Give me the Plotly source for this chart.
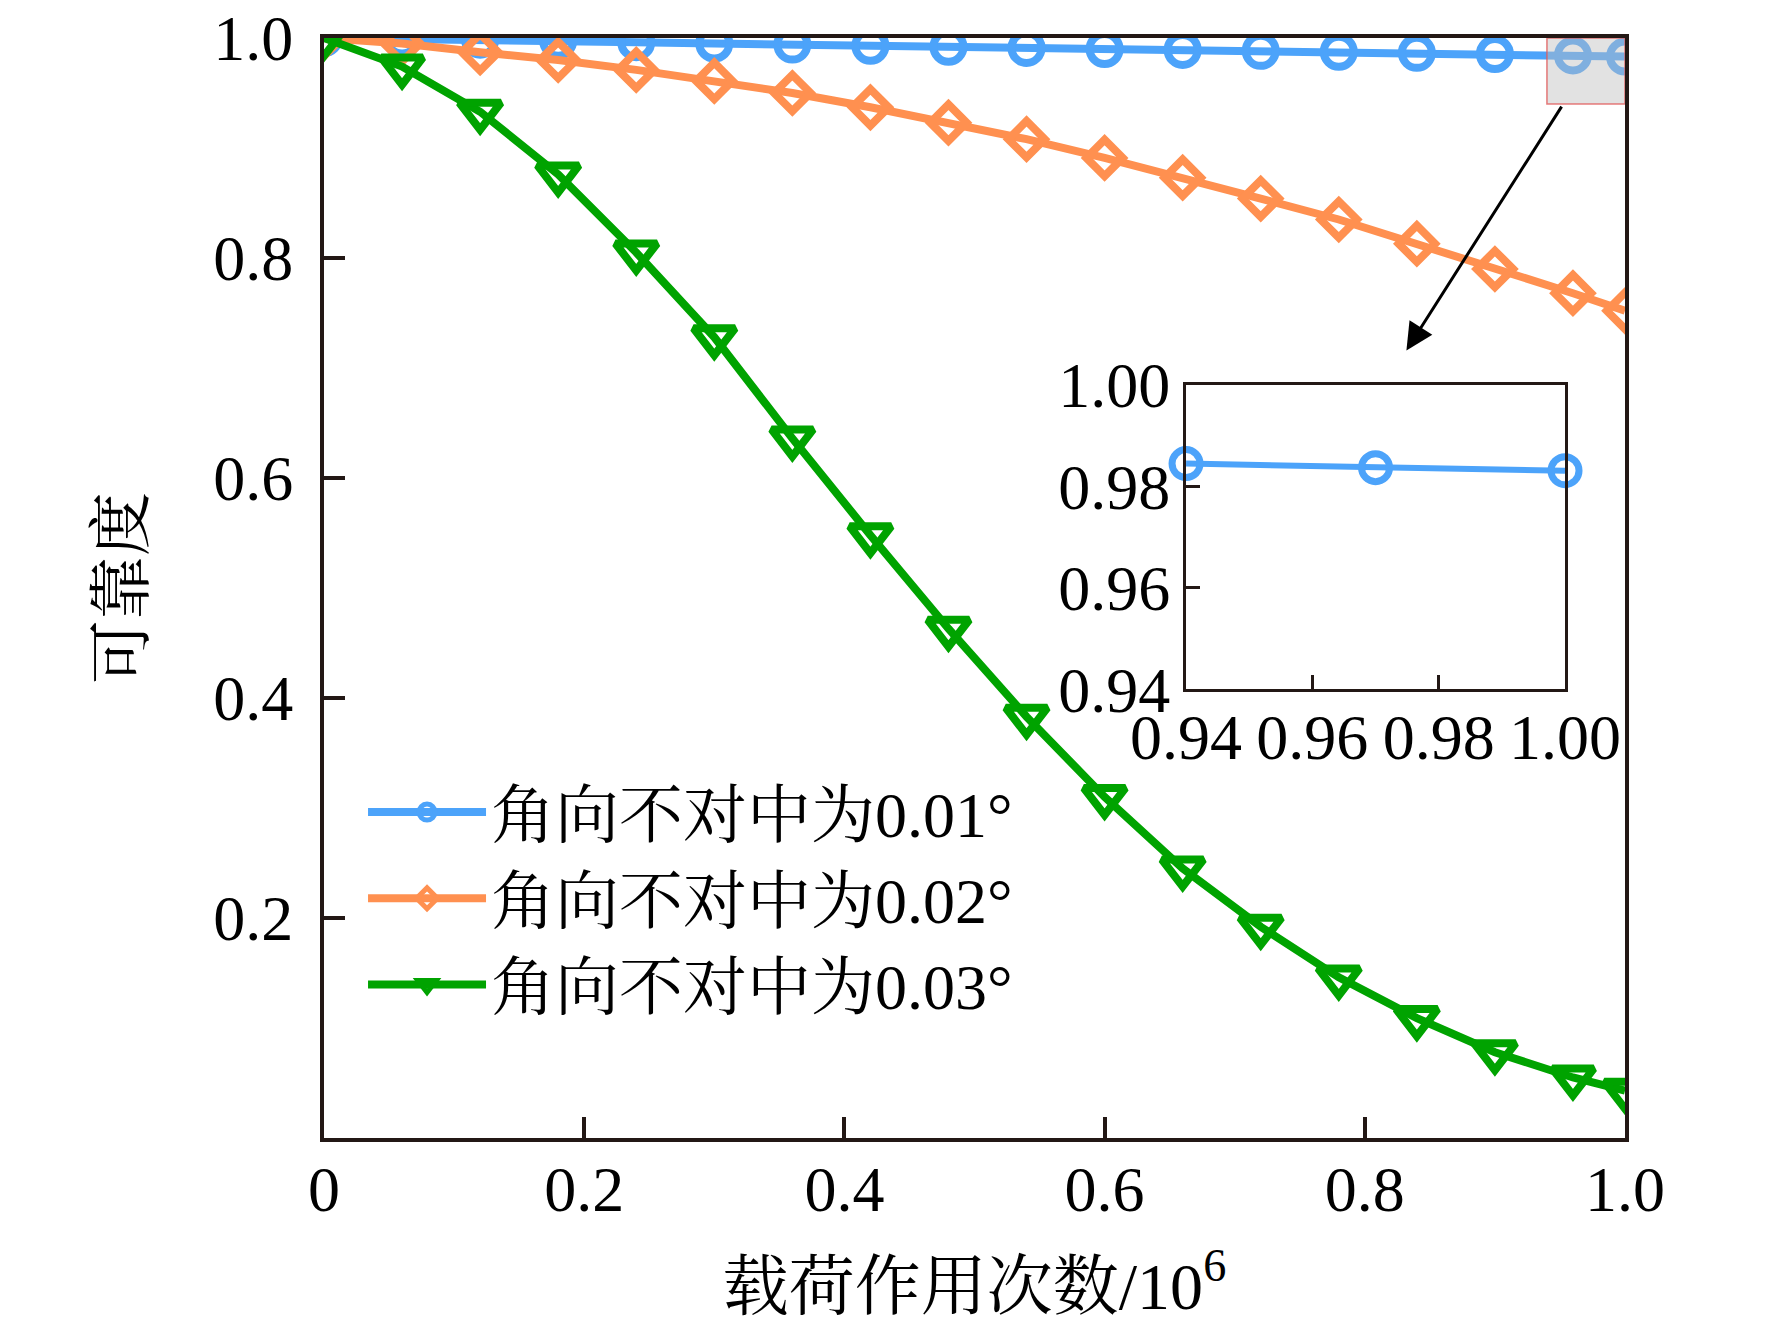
import plotly.graph_objects as go

# ------------------ data ------------------
cycles = [0.0, 0.06, 0.12, 0.18, 0.24, 0.30, 0.36, 0.42, 0.48, 0.54,
          0.60, 0.66, 0.72, 0.78, 0.84, 0.90, 0.96, 1.00]  # x 10^6

rel_001 = [1.000, 0.9995, 0.9985, 0.9975, 0.9962, 0.9950, 0.9940, 0.9930, 0.9920,
           0.9910, 0.9900, 0.9892, 0.9883, 0.9875, 0.9865, 0.9855, 0.9842, 0.9831]
rel_002 = [1.000, 0.995, 0.987, 0.980, 0.971, 0.961, 0.950, 0.937, 0.923,
           0.908, 0.891, 0.873, 0.854, 0.835, 0.813, 0.790, 0.768, 0.752]
rel_003 = [1.000, 0.974, 0.933, 0.876, 0.805, 0.728, 0.636, 0.548, 0.463,
           0.383, 0.310, 0.245, 0.192, 0.146, 0.109, 0.078, 0.055, 0.043]

# zoomed detail (inset)
inset_x = [0.94, 0.97, 1.00]
inset_y = [0.9845, 0.9837, 0.9831]

names = ['角向不对中为0.01°', '角向不对中为0.02°', '角向不对中为0.03°']
x_ticks = [0, 0.2, 0.4, 0.6, 0.8, 1.0]
x_ticktext = ['0', '0.2', '0.4', '0.6', '0.8', '1.0']
y_ticks = [0.2, 0.4, 0.6, 0.8, 1.0]
y_ticktext = ['0.2', '0.4', '0.6', '0.8', '1.0']
inset_ticks = [0.94, 0.96, 0.98, 1.00]
inset_ticktext = ['0.94', '0.96', '0.98', '1.00']

# ------------------ styling ------------------
FONT = 'Liberation Serif, Noto Serif CJK SC, Noto Sans CJK SC, serif'
AXIS_COLOR = '#231815'
colors = ['#4CA3FA', '#FF9050', '#00A300']
symbols = ['circle-open', 'diamond-open', 'triangle-down-open']
sizes = [30, 28, 36]

fig = go.Figure()

for ys, name, color, sym, sz in zip([rel_001, rel_002, rel_003], names, colors, symbols, sizes):
    fig.add_trace(go.Scatter(
        x=cycles, y=ys, mode='lines+markers', name=name,
        line=dict(color=color, width=8),
        marker=dict(symbol=sym, size=sz, color=color, line=dict(color=color, width=8)),
    ))

# inset trace
fig.add_trace(go.Scatter(
    x=inset_x, y=inset_y, mode='lines+markers', showlegend=False,
    xaxis='x2', yaxis='y2', cliponaxis=False,
    line=dict(color=colors[0], width=6),
    marker=dict(symbol='circle-open', size=28, color=colors[0], line=dict(color=colors[0], width=7)),
))

axis_common = dict(
    showline=True, linecolor=AXIS_COLOR, linewidth=4, mirror=True,
    ticks='inside', tickcolor=AXIS_COLOR, tickwidth=4, ticklen=21,
    showgrid=False, zeroline=False, automargin=False, ticklabeloverflow='allow',
    tickfont=dict(family=FONT, size=64, color='black'),
)
inset_common = dict(
    showline=True, linecolor=AXIS_COLOR, linewidth=3, mirror=True,
    ticks='inside', tickcolor=AXIS_COLOR, tickwidth=3, ticklen=14,
    showgrid=False, zeroline=False, automargin=False, ticklabeloverflow='allow',
    tickfont=dict(family=FONT, size=64, color='black'),
    range=[0.94, 1.00], tickvals=inset_ticks, ticktext=inset_ticktext,
)

# page body adds an 8px offset, so the figure is 8px smaller on each side
fig.update_layout(
    width=1764, height=1332,
    plot_bgcolor='white', paper_bgcolor='white',
    margin=dict(l=316, r=147, t=30, b=202),
    font=dict(family=FONT, color='black'),
    xaxis=dict(
        **axis_common, range=[0, 1], tickvals=x_ticks, ticktext=x_ticktext,
        ticklabelstandoff=-8,
        title=dict(text='载荷作用次数/10<sup>6</sup>', font=dict(family=FONT, size=66), standoff=40),
    ),
    yaxis=dict(
        **axis_common, range=[0, 1], tickvals=y_ticks, ticktext=y_ticktext,
        ticklabelstandoff=14,
        title=dict(text='可靠度', font=dict(family=FONT, size=64), standoff=50),
    ),
    xaxis2=dict(**inset_common, domain=[0.6626, 0.9539], anchor='y2', ticklabelstandoff=-10),
    yaxis2=dict(**inset_common, domain=[0.408, 0.6845], anchor='x2'),
    legend=dict(
        x=0.03, y=0.34, xanchor='left', yanchor='top',
        bgcolor='rgba(0,0,0,0)', font=dict(family=FONT, size=64, color='black'),
        itemwidth=118, tracegroupgap=0,
    ),
    showlegend=True,
)

# highlighted zoom region
fig.add_shape(type='rect', xref='x', yref='y', x0=0.94, x1=1.0, y0=0.94, y1=1.0,
              fillcolor='rgba(190,190,190,0.45)', line=dict(color='rgba(225,90,90,0.8)', width=1.5),
              layer='above')

# arrow pointing to the inset
fig.add_annotation(x=0.832, y=0.716, ax=0.952, ay=0.939, xref='x', yref='y',
                   axref='x', ayref='y', text='', showarrow=True,
                   arrowhead=2, arrowsize=1.8, arrowwidth=3, arrowcolor='black')

fig.write_html('out.html')
